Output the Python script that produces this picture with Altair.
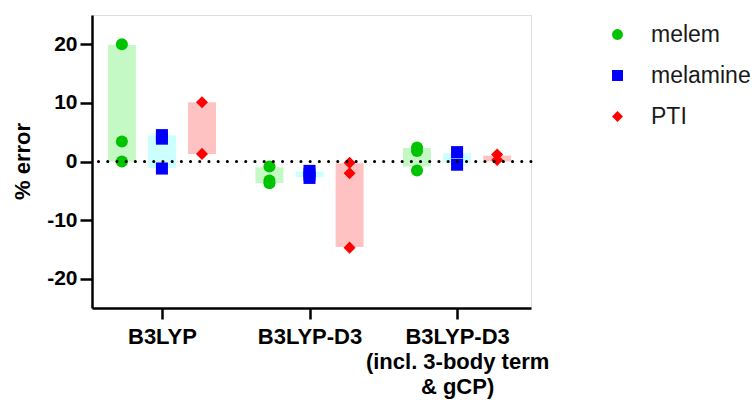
import altair as alt
import pandas as pd

methods = ["B3LYP", "B3LYP-D3", "B3LYP-D3|(incl. 3-body term|& gCP)"]
series = ["melem", "melamine", "PTI"]

# individual points (% error) per method
melem_pts = [[20.0, 3.4, 0.0], [-0.85, -3.25, -3.7], [2.4, 1.8, -1.55]]
melamine_pts = [[4.5, 3.9, -1.2], [-1.6, -2.2, -2.8], [1.6, -0.55]]
pti_pts = [[10.1, 1.3], [-0.2, -2.0, -14.7], [1.2, 0.25]]

# shaded range bars per method
melem_low = [0.0, -3.7, -0.85]
melem_high = [19.9, -1.0, 2.3]
melamine_low = [-1.1, -2.7, -0.2]
melamine_high = [4.5, -1.7, 1.4]
pti_low = [1.3, -14.6, 0.0]
pti_high = [10.1, -0.3, 1.0]

point_colors = ["#00c400", "#0000ff", "#ff0000"]
bar_colors = ["#c4f8c4", "#ccffff", "#ffc2c2"]
shapes = ["circle", "square", "diamond"]
dodge = 0.2715

pts_all = [melem_pts, melamine_pts, pti_pts]
lows = [melem_low, melamine_low, pti_low]
highs = [melem_high, melamine_high, pti_high]

prow = []
brow = []
for si, s in enumerate(series):
    for mi in range(len(methods)):
        xpos = mi + (si - 1) * dodge
        for v in pts_all[si][mi]:
            prow.append({"series": s, "x": xpos, "value": v})
        brow.append({"group": s, "x": xpos, "low": lows[si][mi], "high": highs[si][mi]})
pdf = pd.DataFrame(prow)
bdf = pd.DataFrame(brow)

label_arr = "[" + ",".join("[" + ",".join("'" + p + "'" for p in m.split("|")) + "]" for m in methods) + "]"

xscale = alt.Scale(domain=[-0.44, 2.467], nice=False, zero=False)
yscale = alt.Scale(domain=[-25, 25], nice=False)

xaxis = alt.Axis(values=[0, 1, 2], labelExpr=label_arr + "[datum.value]", title=None,
                 grid=False, tickSize=11, tickWidth=2.5, tickColor="black",
                 domainColor="black", domainWidth=2.5, labelFont="Liberation Sans",
                 labelFontWeight="bold", labelFontSize=22, labelColor="black",
                 labelPadding=7, labelLineHeight=25, labelAngle=0, labelAlign="center",
                 labelBaseline="top", labelLimit=400, labelOverlap=False)
yaxis = alt.Axis(values=[-20, -10, 0, 10, 20], labelExpr="'' + datum.value",
                 title="% error", grid=False, tickSize=12,
                 tickWidth=2.5, tickColor="black", domainColor="black", domainWidth=2.5,
                 labelFont="Liberation Sans", labelFontWeight="bold", labelFontSize=21,
                 labelColor="black", labelPadding=3, titleFont="Liberation Sans",
                 titleFontWeight="bold", titleFontSize=22, titleColor="black",
                 titleX=-70, titleY=146, titleAngle=270, titleAlign="center",
                 titleBaseline="middle")

legend = alt.Legend(title=None, orient="none", legendX=514, legendY=8,
                    labelFont="Liberation Sans", labelFontSize=23,
                    labelColor="#1a1a1a", symbolSize=120,
                    labelOffset=22, rowPadding=17, padding=0,
                    symbolStrokeWidth=0)

bar_layers = []
for s, c in zip(series, bar_colors):
    bar_layers.append(
        alt.Chart(bdf).transform_filter(alt.datum.group == s)
        .mark_bar(size=28, strokeWidth=0, color=c)
        .encode(
            x=alt.X("x:Q", scale=xscale, axis=xaxis),
            y=alt.Y("low:Q", scale=yscale, axis=yaxis),
            y2="high:Q",
        )
    )

points = alt.Chart(pdf).mark_point(filled=True, opacity=1, size=145).encode(
    x=alt.X("x:Q", scale=xscale),
    y=alt.Y("value:Q", scale=yscale),
    color=alt.Color("series:N", scale=alt.Scale(domain=series, range=point_colors),
                    legend=legend),
    shape=alt.Shape("series:N", scale=alt.Scale(domain=series, range=shapes), legend=legend),
)

zero = alt.Chart(pd.DataFrame({"zero": [0]})).mark_rule(
    color="black", strokeWidth=3, strokeDash=[0.1, 9.1], strokeCap="round"
).encode(y=alt.Y("zero:Q", scale=yscale))

chart = alt.layer(*bar_layers, points, zero).properties(
    width=439, height=293,
    autosize=alt.AutoSizeParams(type="none"),
    padding={"left": 92, "top": 15, "right": 225, "bottom": 92},
).configure_view(stroke="black", strokeWidth=2.5).configure(background="white")

chart.save("out.html", embed_options={"renderer": "svg", "actions": False})
